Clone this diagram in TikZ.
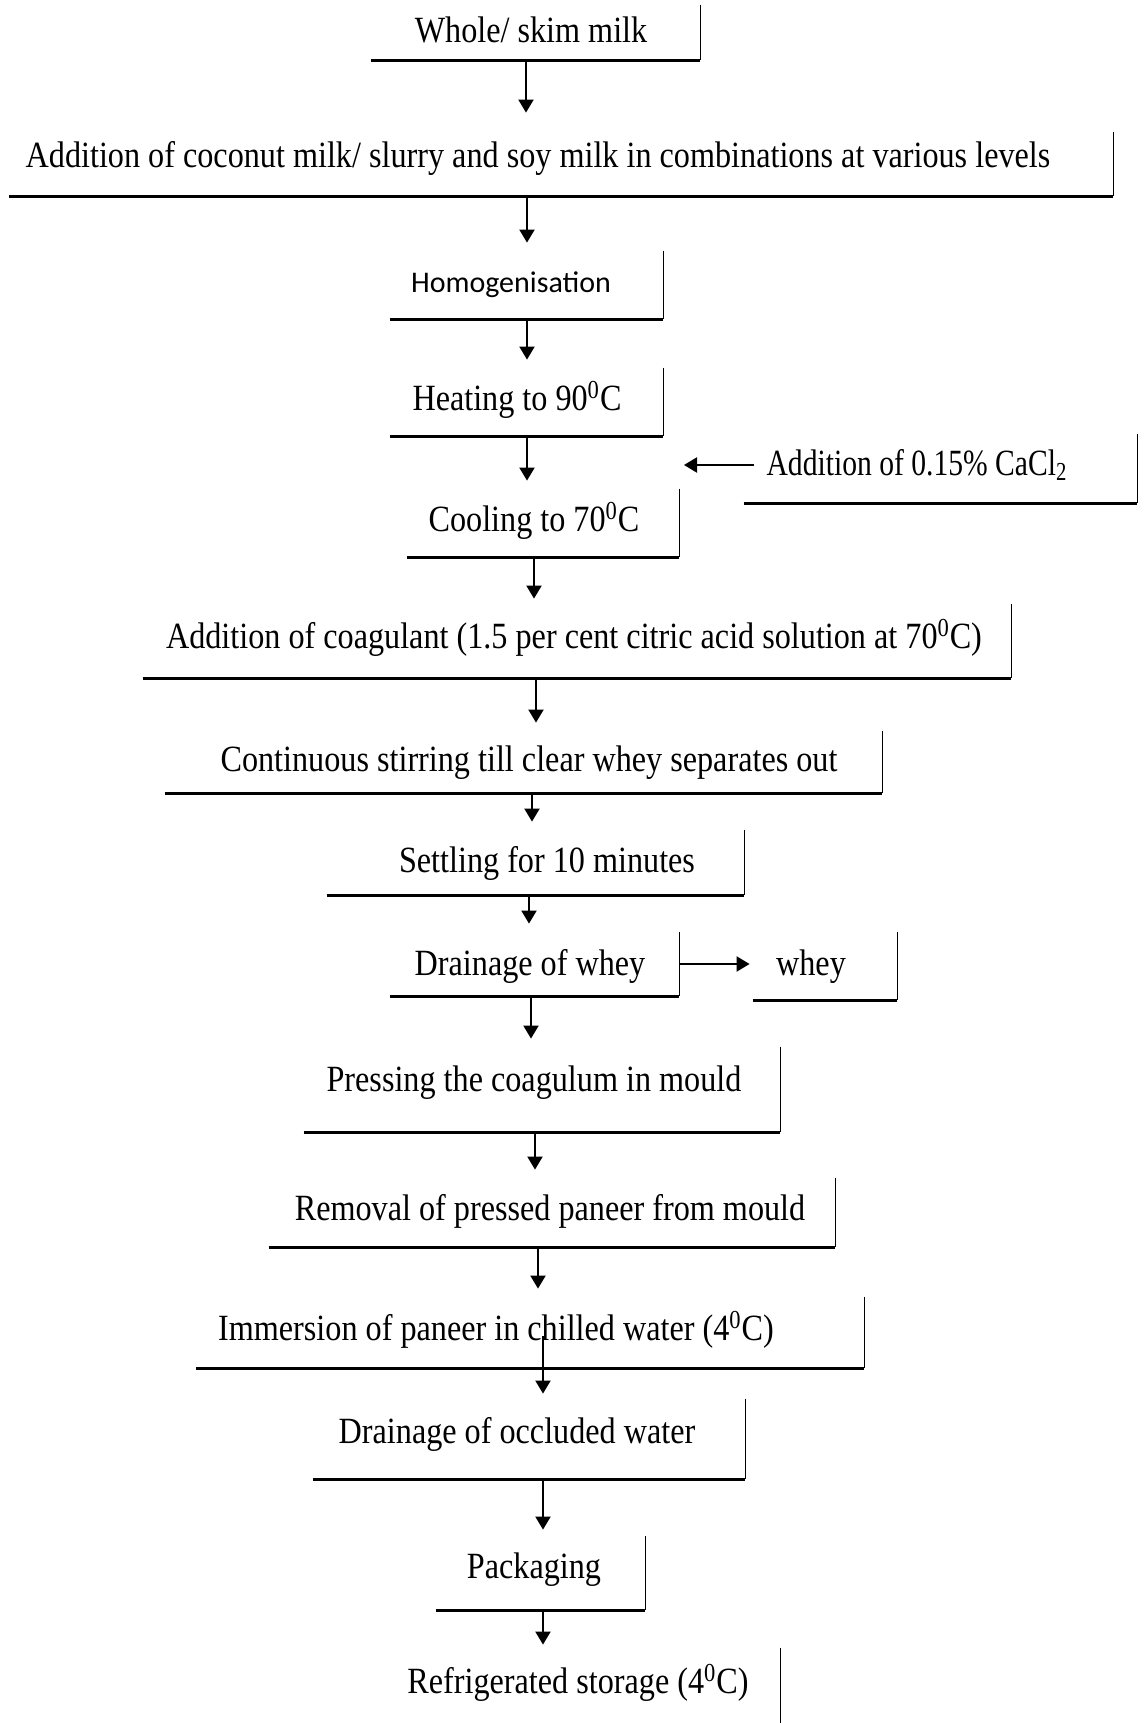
\documentclass[tikz,border=0pt]{standalone}
\usepackage{fontspec}
\setmainfont{Liberation Serif}[FakeStretch=0.87]
\newfontfamily\calib{Carlito}
\newfontfamily\narrowserif{Liberation Serif}[FakeStretch=0.80]
\usetikzlibrary{arrows.meta,fit}
\tikzset{
  txt/.style={anchor=mid, inner sep=0pt, font=\fontsize{18.5}{22}\selectfont},
  rline/.style={line width=0.8pt},
  bline/.style={line width=1.65pt},
  arr/.style={line width=1pt, -{Triangle[length=6.5pt,width=7.5pt]}, shorten >=4pt},
  frm/.style={inner sep=0pt, draw=none},
}
\newcommand\stepframe[5]{%
  \node[frm, fit={(#2,#3) (#4,#5)}] (#1) {};
  \draw[rline] (#1.north east) -- (#1.south east);
  \draw[bline] (#1.south west) -- (#1.south east);}
\begin{document}
\begin{tikzpicture}[x=0.5pt,y=-0.5pt]
\useasboundingbox (0,0) rectangle (1144,1723);
% frames
\stepframe{f1}{371}{5}{700}{60}
\stepframe{f2}{9}{132}{1113}{196}
\stepframe{f3}{390}{251}{663}{319}
\stepframe{f4}{390}{368}{663}{436}
\stepframe{fc}{744}{434}{1137}{503}
\stepframe{f5}{407}{489}{679}{557}
\stepframe{f6}{143}{604}{1011}{678}
\stepframe{f7}{165}{731}{882}{793}
\stepframe{f8}{327}{830}{744}{895}
\stepframe{f9}{390}{932}{679}{996}
\stepframe{fw}{753}{932}{897}{1000}
\stepframe{f10}{304}{1047}{780}{1132}
\stepframe{f11}{269}{1178}{835}{1247}
\stepframe{f12}{196}{1297}{864}{1368}
\stepframe{f13}{313}{1399}{745}{1479}
\stepframe{f14}{436}{1536}{645}{1610}
\node[frm, fit={(400,1648) (780,1723)}] (f15) {};
\draw[rline] (f15.north east) -- (f15.south east);
% texts
\node[txt] (t1) at (531,38) {Whole/ skim milk};
\node[txt] (t2) at (538,163) {Addition of coconut milk/ slurry and soy milk in combinations at various levels};
\node[txt, font=\calib\fontsize{15}{18}\selectfont] (t3) at (511,288) {Homogenisation};
\node[txt] (t4) at (517,406) {Heating to 90\textsuperscript{0}C};
\node[txt, font=\narrowserif\fontsize{18.5}{22}\selectfont] (tc) at (917,471) {Addition of 0.15\% CaCl\textsubscript{2}};
\node[txt] (t5) at (534,527) {Cooling to 70\textsuperscript{0}C};
\node[txt] (t6) at (574,644) {Addition of coagulant (1.5 per cent citric acid solution at 70\textsuperscript{0}C)};
\node[txt] (t7) at (529,767) {Continuous stirring till clear whey separates out};
\node[txt] (t8) at (547,868) {Settling for 10 minutes};
\node[txt] (t9) at (530,971) {Drainage of whey};
\node[txt] (tw) at (811,971) {whey};
\node[txt] (t10) at (534,1087) {Pressing the coagulum in mould};
\node[txt] (t11) at (550,1216) {Removal of pressed paneer from mould};
\node[txt] (t12) at (496,1336) {Immersion of paneer in chilled water (4\textsuperscript{0}C)};
\node[txt] (t13) at (517,1439) {Drainage of occluded water};
\node[txt] (t14) at (534,1574) {Packaging};
\node[txt] (t15) at (578,1689) {Refrigerated storage (4\textsuperscript{0}C)};
% arrows
\draw[arr, shorten >=9.5pt] (f1.south -| 526,0) -- (f2.north -| 526,0);
\draw[arr] (f2.south -| 527,0) -- (f3.north -| 527,0);
\draw[arr] (f3.south -| 527,0) -- (f4.north -| 527,0);
\draw[arr] (f4.south -| 527,0) -- (f5.north -| 527,0);
\draw[arr, shorten >=2.5pt] (f5.south -| 534,0) -- (f6.north -| 534,0);
\draw[arr] (f6.south -| 536,0) -- (f7.north -| 536,0);
\draw[arr] (f7.south -| 532,0) -- (f8.north -| 532,0);
\draw[arr] (f8.south -| 529,0) -- (f9.north -| 529,0);
\draw[arr] (f9.south -| 531,0) -- (f10.north -| 531,0);
\draw[arr] (f10.south -| 535,0) -- (f11.north -| 535,0);
\draw[arr] (f11.south -| 538,0) -- (f12.north -| 538,0);
\draw[arr, shorten <=-16pt, shorten >=2.5pt] (f12.south -| 543,0) -- (f13.north -| 543,0);
\draw[arr, shorten >=3pt] (f13.south -| 543,0) -- (f14.north -| 543,0);
\draw[arr, shorten >=1.5pt] (f14.south -| 543,0) -- (f15.north -| 543,0);
\coordinate (cend) at (684,465);
\draw[arr, shorten >=0pt, shorten <=6pt] (tc.west |- cend) -- (cend);
\draw[arr, shorten >=1.5pt] (f9.east) -- (f9.east -| fw.west);
\end{tikzpicture}
\end{document}
